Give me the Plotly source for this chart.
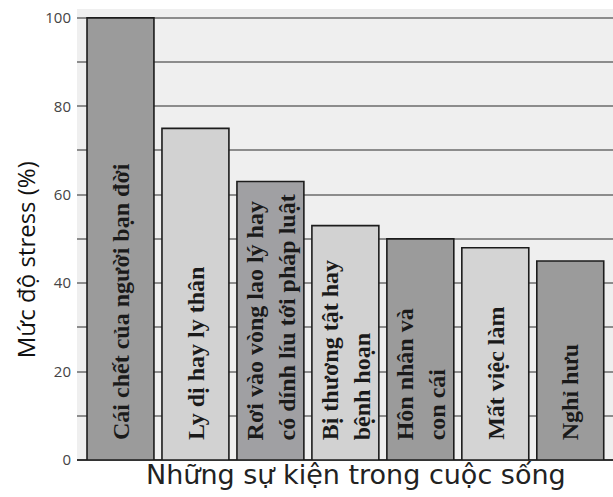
import plotly.graph_objects as go

# Life events and their relative stress level (%)
events = [
    "Cái chết của người bạn đời",
    "Ly dị hay ly thân",
    "Rơi vào vòng lao lý hay<br>có dính líu tới pháp luật",
    "Bị thương tật hay<br>bệnh hoạn",
    "Hôn nhân và<br>con cái",
    "Mất việc làm",
    "Nghỉ hưu",
]
stress = [100, 75, 63, 53, 50, 48, 45]
bar_colors = ["#9b9b9b", "#d2d2d2", "#a0a0a3", "#d2d2d2", "#9b9b9b", "#d4d4d4", "#9b9b9b"]

y_tickvals = [0, 10, 20, 30, 40, 50, 60, 70, 80, 90, 100]
y_ticktext = ["0", "", "20", "", "40", "", "60", "", "80", "", "100"]

x_pos = list(range(len(events)))

fig = go.Figure(
    go.Bar(
        x=x_pos,
        y=stress,
        width=0.893,
        marker=dict(color=bar_colors, line=dict(color="#1c1c1c", width=1.6)),
        hoverinfo="skip",
    )
)

# Event names written upward inside each bar, lines aligned at the bar foot
for xi, label in zip(x_pos, events):
    fig.add_annotation(
        x=xi,
        y=0,
        xref="x",
        yref="y",
        text=label,
        textangle=-90,
        align="left",
        xanchor="center",
        yanchor="bottom",
        yshift=18,
        showarrow=False,
        font=dict(family="Liberation Serif", size=24, color="#1a1a1a", weight="bold"),
    )

# Axis titles as free text
fig.add_annotation(
    x=-0.097,
    y=0.443,
    xref="paper",
    yref="paper",
    text="Mức độ stress (%)",
    textangle=-90,
    showarrow=False,
    xanchor="center",
    yanchor="middle",
    font=dict(family="Open Sans", size=24, color="#111111"),
)
fig.add_annotation(
    x=0.52,
    y=0,
    xref="paper",
    yref="paper",
    yshift=3,
    text="Những sự kiện trong cuộc sống",
    showarrow=False,
    xanchor="center",
    yanchor="top",
    font=dict(family="DejaVu Sans", size=27, color="#222222"),
)

fig.update_layout(
    width=613,
    height=497,
    margin=dict(l=77, r=0, t=9, b=37),
    paper_bgcolor="white",
    plot_bgcolor="#efefef",
    showlegend=False,
    xaxis=dict(
        range=[-0.58, 6.57],
        showticklabels=False,
        showgrid=False,
        zeroline=False,
        ticks="",
    ),
    yaxis=dict(
        range=[0, 102],
        tickvals=y_tickvals,
        ticktext=y_ticktext,
        tickfont=dict(family="Open Sans", size=15, color="#444444"),
        ticks="",
        ticklabelstandoff=5,
        showgrid=True,
        gridcolor="#8c8c8c",
        gridwidth=2,
        zeroline=True,
        zerolinecolor="#333333",
        zerolinewidth=2,
    ),
)

fig.write_html("out.html")
